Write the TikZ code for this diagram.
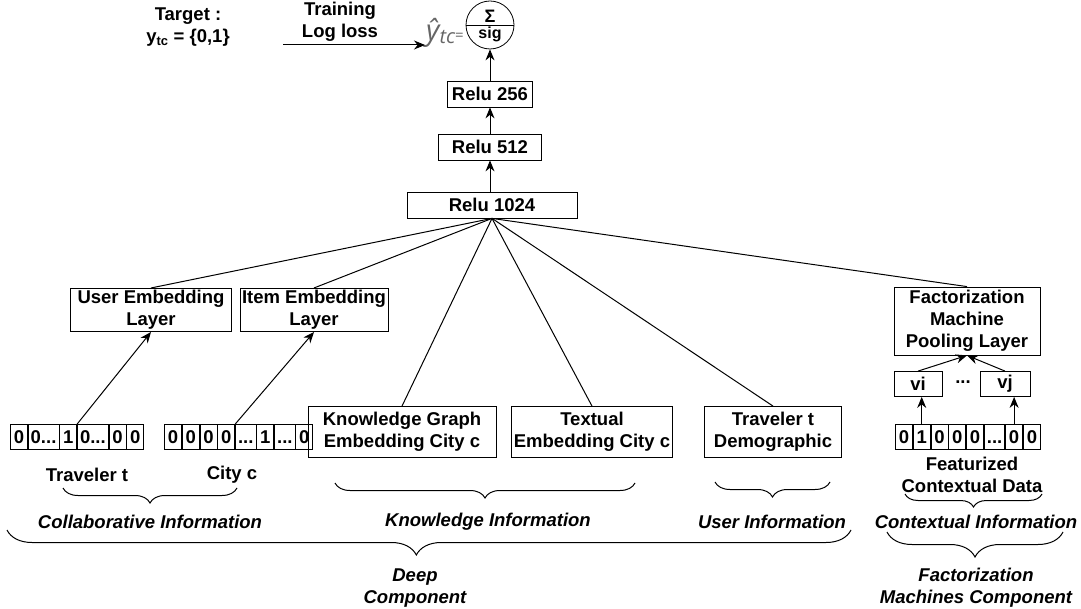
\documentclass[tikz,border=0pt]{standalone}
\usepackage{fontspec}
\setmainfont{Liberation Sans}
\newfontfamily\sombrero{Open Sans}
\usetikzlibrary{arrows.meta, positioning, decorations.pathreplacing}
\newcommand\ddd{...}

\begin{document}
\begin{tikzpicture}[x=1pt, y=-1pt,
      font=\fontsize{18.5}{22}\selectfont\bfseries,
      caja/.style={draw, line width=0.8pt, align=center, inner sep=2pt},
      celda/.style={draw, line width=0.8pt, minimum width=17pt, minimum height=25pt,
                    inner xsep=2.5pt, inner ysep=0pt, text height=13pt, text depth=0pt},
      flecha/.style={-{Stealth[length=11pt, width=9pt]}, line width=1pt},
      enlace/.style={line width=1pt},
      llave/.style={decorate, decoration={brace, mirror, amplitude=#1}, line width=1pt},
      llave/.default=15pt,
      etiqueta/.style={font=\fontsize{18.5}{22}\selectfont\bfseries\itshape, align=center}]
    \useasboundingbox (0,0) rectangle (1081,609);

    % salida
    \node[circle, draw, line width=0.8pt, minimum size=48pt, inner sep=0pt] (sigma) at (490,25) {};
    \draw[line width=0.8pt] (sigma.west) -- (sigma.east);
    \node[above=1.5pt of sigma.center, inner sep=0.5pt, font=\fontsize{18}{18}\selectfont\bfseries] (suma) {Σ};
    \node[below=1.5pt of sigma.center, inner sep=0.5pt, font=\fontsize{16}{16}\selectfont\bfseries] (sig) {sig};
    \node[anchor=east, inner sep=1pt] (yhat) at (465,33)
      {\sombrero\mdseries\color{black!60}\itshape\fontsize{29}{29}\selectfont ŷ\raisebox{-3pt}{\fontsize{20}{20}\selectfont tc}{\upshape\fontsize{15}{15}\selectfont=}};
    \node[align=center] (objetivo) at (188,27) {Target :\\y\textsubscript{tc} = \{0,1\}};
    \node[align=center] (perdida) at (340,22) {Training\\Log loss};
    \coordinate (inicio) at (283,45);
    \draw[flecha] (inicio) -- (inicio -| yhat.west);

    % capas densas
    \node[caja, minimum width=85pt, minimum height=26pt] (relu256) at (490,94) {Relu 256};
    \node[caja, minimum width=103pt, minimum height=26pt] (relu512) at (490,147) {Relu 512};
    \node[caja, minimum width=170pt, minimum height=26pt] (relu1024) at (492,205) {Relu 1024};
    \draw[flecha] (relu256) -- (sigma);
    \draw[flecha] (relu512) -- (relu256);
    \draw[flecha] (relu1024.north -| relu512) -- (relu512);

    % capas de entrada
    \node[caja, minimum width=161pt, minimum height=42pt] (usuario) at (151,310) {User Embedding\\Layer};
    \node[caja, minimum width=148pt, minimum height=42pt] (item) at (314,310) {Item Embedding\\Layer};
    \node[caja, minimum width=188pt, minimum height=51pt] (grafo) at (402,432) {Knowledge Graph\\Embedding City c};
    \node[caja, minimum width=160pt, minimum height=51pt] (textual) at (592,432) {Textual\\Embedding City c};
    \node[caja, minimum width=137pt, minimum height=51pt] (demografia) at (773,432) {Traveler t\\Demographic};
    \node[caja, minimum width=146pt, minimum height=68pt] (fm) at (967,321) {Factorization\\Machine\\Pooling Layer};
    \node[caja, minimum width=48pt, minimum height=25pt] (vi) at (918,384) {vi};
    \node (puntos) at (963,382) {...};
    \node[caja, minimum width=50pt, minimum height=25pt] (vj) at (1005,384) {vj};
    \foreach \destino in {usuario, item, grafo, textual, demografia, fm}
      \draw[enlace] (relu1024.south) -- (\destino.north);

    % vectores one-hot
    \foreach \t [count=\i] in {0,0\ddd,1,0\ddd,0,0} {
      \ifnum\i=1 \node[celda, anchor=west] (tv\i) at (10,437) {\t};
      \else \pgfmathtruncatemacro\j{\i-1}\node[celda, right=0pt of tv\j] (tv\i) {\t};
      \fi
    }
    \foreach \t [count=\i] in {0,0,0,0,\ddd,1,\ddd,0} {
      \ifnum\i=1 \node[celda, anchor=west] (cv\i) at (164,437) {\t};
      \else \pgfmathtruncatemacro\j{\i-1}\node[celda, right=0pt of cv\j] (cv\i) {\t};
      \fi
    }
    \foreach \t [count=\i] in {0,1,0,0,0,\ddd,0,0} {
      \ifnum\i=1 \node[celda, anchor=west] (xv\i) at (895,437) {\t};
      \else \pgfmathtruncatemacro\j{\i-1}\node[celda, right=0pt of xv\j] (xv\i) {\t};
      \fi
    }
    \draw[flecha] (tv3.north east) -- (usuario.south);
    \draw[flecha] (cv4.north east) -- (item.south);
    \draw[flecha] (xv2.north) -- (xv2.north |- vi.south);
    \draw[flecha] (xv7.north) -- (xv7.north |- vj.south);
    \draw[flecha] (vi.north) -- (fm.south);
    \draw[flecha] (vj.north) -- (fm.south);

    % etiquetas
    \node (viajero) at (87,475) {Traveler t};
    \node (ciudad) at (232,475) {City c};
    \node[align=center] (contexto) at (972,475) {Featurized\\Contextual Data};
    \node[etiqueta] (colab) at (150,522) {Collaborative Information};
    \node[etiqueta] (conoc) at (488,522) {Knowledge Information};
    \node[etiqueta] (usinfo) at (772,522) {User Information};
    \node[etiqueta] (ctxinfo) at (976,522) {Contextual Information};
    \node[etiqueta] (profundo) at (415,588) {Deep\\Component};
    \node[etiqueta] (factor) at (976,588) {Factorization\\Machines Component};

    % llaves
    \draw[llave] (63,488) -- (237,488);
    \draw[llave] (335,483) -- (635,483);
    \draw[llave] (715,482) -- (830,482);
    \draw[llave=13pt] (905,494) -- (1042,494);
    \draw[llave=25pt, decoration={aspect=0.485}] (7,530) -- (851,530);
    \draw[llave=25pt] (887,532) -- (1063,532);
  \end{tikzpicture}
\end{document}
